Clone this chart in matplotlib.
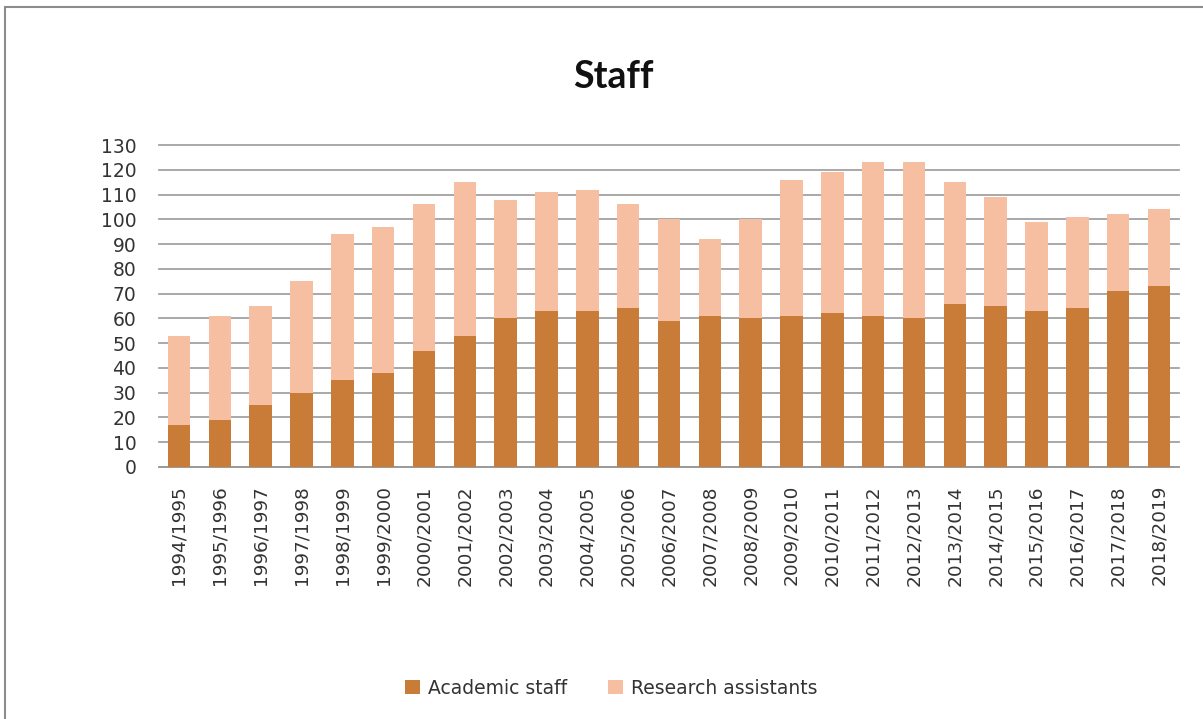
import numpy as np
import matplotlib.pyplot as plt
from matplotlib.patches import Rectangle

years = ['1994/1995', '1995/1996', '1996/1997', '1997/1998', '1998/1999',
         '1999/2000', '2000/2001', '2001/2002', '2002/2003', '2003/2004',
         '2004/2005', '2005/2006', '2006/2007', '2007/2008', '2008/2009',
         '2009/2010', '2010/2011', '2011/2012', '2012/2013', '2013/2014',
         '2014/2015', '2015/2016', '2016/2017', '2017/2018', '2018/2019']
academic = [17, 19, 25, 30, 35, 38, 47, 53, 60, 63, 63, 64, 59, 61, 60,
            61, 62, 61, 60, 66, 65, 63, 64, 71, 73]
total = [53, 61, 65, 75, 94, 97, 106, 115, 108, 111, 112, 106, 100, 92, 100,
         116, 119, 123, 123, 115, 109, 99, 101, 102, 104]
research = [t - a for t, a in zip(total, academic)]

c_acad = '#c97c38'
c_res = '#f7bfa1'

plt.rcParams['font.family'] = ['DejaVu Sans']

fig = plt.figure(figsize=(12.03, 7.19), dpi=100)
fig.patches.append(Rectangle((0.004, -0.01), 1.2, 1.0, transform=fig.transFigure,
                             fill=False, edgecolor='#8c8c8c', linewidth=1.5))

ax = fig.add_axes([0.1318, 0.3505, 0.8486, 0.4478])
x = np.arange(len(years))
ax.bar(x, academic, width=0.55, color=c_acad, label='Academic staff', zorder=3)
ax.bar(x, research, width=0.55, bottom=academic, color=c_res,
       label='Research assistants', zorder=3)

ax.set_xlim(-0.5, len(years) - 0.5)
ax.set_ylim(0, 130)
ax.set_yticks(range(0, 131, 10))
ax.set_xticks(x)
ax.set_xticklabels(years, rotation=90, fontsize=13.3, color='#333333')
ax.tick_params(axis='y', labelsize=13.5, labelcolor='#333333', length=0, pad=16)
ax.tick_params(axis='x', length=0, pad=13)
ax.yaxis.grid(True, color='#999999', linewidth=1.2, zorder=0)
for gl in ax.get_ygridlines():
    gl.set_clip_on(False)
for s in ['top', 'right', 'left']:
    ax.spines[s].set_visible(False)
ax.spines['bottom'].set_color('#999999')
ax.spines['bottom'].set_linewidth(1.2)

fig.text(0.51, 0.893, 'Staff', ha='center', va='center', fontsize=27,
         fontweight='bold', color='#111111', family=['Lato', 'DejaVu Sans'])

fig.legend(loc='center', bbox_to_anchor=(0.508, 0.043), ncol=2, frameon=False,
           fontsize=13.5, handlelength=0.8, handleheight=0.7, columnspacing=2.2,
           handletextpad=0.4, labelcolor='#333333')

fig.savefig('out.png', dpi=100)
